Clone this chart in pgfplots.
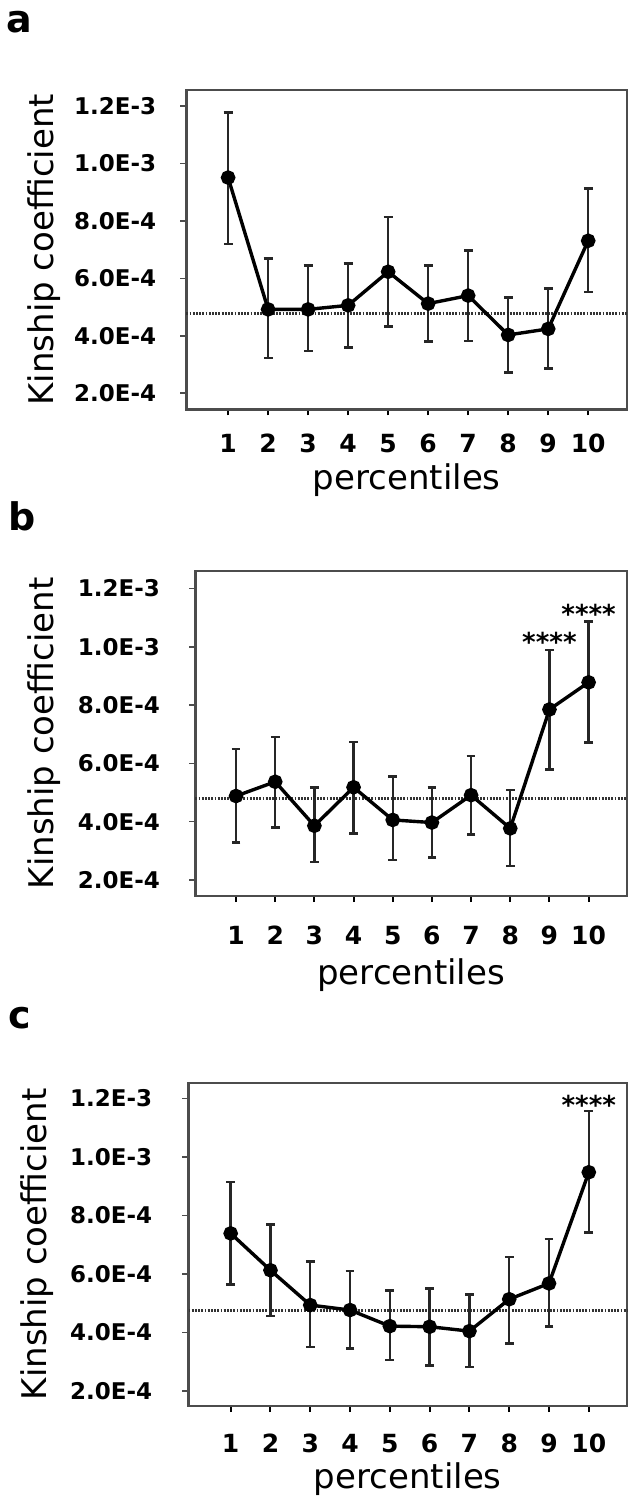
\documentclass[border=0pt]{standalone}
\usepackage{pgfplots}
\pgfplotsset{compat=1.18}
\usepackage{pgfplotstable}
\usepackage{fontspec}
\setmainfont{DejaVu Sans}

\pgfplotstableread{
x m hi lo
1 9.51e-4 11.77e-4 7.20e-4
2 4.92e-4 6.69e-4 3.22e-4
3 4.92e-4 6.45e-4 3.47e-4
4 5.06e-4 6.52e-4 3.59e-4
5 6.23e-4 8.14e-4 4.32e-4
6 5.12e-4 6.45e-4 3.80e-4
7 5.40e-4 6.98e-4 3.82e-4
8 4.03e-4 5.33e-4 2.72e-4
9 4.24e-4 5.64e-4 2.87e-4
10 7.31e-4 9.13e-4 5.53e-4
}\dataA
\pgfplotstableread{
x m hi lo
1 4.88e-4 6.50e-4 3.28e-4
2 5.37e-4 6.91e-4 3.81e-4
3 3.86e-4 5.18e-4 2.61e-4
4 5.18e-4 6.74e-4 3.60e-4
5 4.06e-4 5.54e-4 2.69e-4
6 3.97e-4 5.18e-4 2.78e-4
7 4.91e-4 6.25e-4 3.57e-4
8 3.77e-4 5.09e-4 2.48e-4
9 7.85e-4 9.89e-4 5.79e-4
10 8.78e-4 10.86e-4 6.71e-4
}\dataB
\pgfplotstableread{
x m hi lo
1 7.39e-4 9.14e-4 5.64e-4
2 6.13e-4 7.69e-4 4.56e-4
3 4.94e-4 6.42e-4 3.51e-4
4 4.77e-4 6.10e-4 3.46e-4
5 4.22e-4 5.43e-4 3.06e-4
6 4.20e-4 5.51e-4 2.87e-4
7 4.05e-4 5.31e-4 2.83e-4
8 5.14e-4 6.59e-4 3.63e-4
9 5.68e-4 7.20e-4 4.20e-4
10 9.48e-4 11.58e-4 7.42e-4
}\dataC

\pgfplotsset{
  kin/.style={
    scale only axis,
    anchor=north west,
    xtick={1,...,10},
    xticklabels={1,2,3,4,5,6,7,8,9,10},
    ytick={2e-4,4e-4,6e-4,8e-4,10e-4,12e-4},
    yticklabels={2.0E-4,4.0E-4,6.0E-4,8.0E-4,1.0E-3,1.2E-3},
    scaled y ticks=false,
    xtick pos=bottom, ytick pos=left,
    tick align=outside,
    major tick length=3pt,
    axis line style={black!70, line width=1.2pt},
    xtick style={black, line width=1pt},
    ytick style={black!70, line width=0.8pt},
    x tick label style={font=\bfseries\fontsize{12.5}{14}\selectfont, anchor=center},
    y tick label style={font=\bfseries\fontsize{11.5}{13}\selectfont, anchor=east, inner sep=0pt},
    xlabel={percentiles},
    ylabel={Kinship coefficient},
    label style={font=\fontsize{17}{20}\selectfont},
    xlabel style={at={(axis description cs:0.5,0)}, anchor=center},
    clip=false,
  },
  refl/.style={black!80, line width=1.4pt, dash pattern=on 0.9pt off 0.7pt},
  ser/.style={black, line width=1.7pt, mark=*, mark size=2.8pt, mark options={solid, fill=black},
    error bars/.cd, y dir=both, y explicit,
    error bar style={line width=1.2pt, black!85},
    error mark options={rotate=90, line width=1.3pt, mark size=2.2pt, black!85}},
}

\begin{document}
\begin{tikzpicture}
% panel a
\begin{axis}[kin, at={(93.25pt,-45pt)}, width=220.25pt, height=159.65pt,
  xmin=-0.04, xmax=10.97, ymin=1.44e-4, ymax=12.56e-4,
  x tick label style={yshift=-14pt}, y tick label style={xshift=-12pt},
  xlabel style={yshift=-35.5pt},
  ylabel style={at={(axis description cs:-0.3235,0.5)}, anchor=center}]
\addplot[refl] coordinates {(-0.04,4.79e-4) (10.97,4.79e-4)};
\addplot[ser] table[x=x, y=m, y error plus expr=\thisrow{hi}-\thisrow{m}, y error minus expr=\thisrow{m}-\thisrow{lo}] {\dataA};
\end{axis}
% panel b
\begin{axis}[kin, at={(97.65pt,-285.35pt)}, width=215.85pt, height=162.65pt,
  xmin=-0.04, xmax=10.98, ymin=1.45e-4, ymax=12.61e-4,
  x tick label style={yshift=-16.75pt}, y tick label style={xshift=-14.5pt},
  xlabel style={yshift=-39.5pt},
  ylabel style={at={(axis description cs:-0.3505,0.5)}, anchor=center}]
\addplot[refl] coordinates {(-0.04,4.80e-4) (10.98,4.80e-4)};
\addplot[ser] table[x=x, y=m, y error plus expr=\thisrow{hi}-\thisrow{m}, y error minus expr=\thisrow{m}-\thisrow{lo}] {\dataB};
\node[anchor=base, yshift=-7.7pt, font=\bfseries\fontsize{13}{15}\selectfont, inner sep=0pt] at (axis cs:9,10.37e-4) {****};
\node[anchor=base, yshift=-7.7pt, font=\bfseries\fontsize{13}{15}\selectfont, inner sep=0pt] at (axis cs:10,11.33e-4) {****};
\end{axis}
% panel c
\begin{axis}[kin, at={(94.25pt,-541.35pt)}, width=219.25pt, height=161.65pt,
  xmin=-0.06, xmax=10.96, ymin=1.49e-4, ymax=12.54e-4,
  x tick label style={yshift=-15.75pt}, y tick label style={xshift=-15pt},
  xlabel style={yshift=-36.5pt},
  ylabel style={at={(axis description cs:-0.3455,0.5)}, anchor=center}]
\addplot[refl] coordinates {(-0.06,4.75e-4) (10.96,4.75e-4)};
\addplot[ser] table[x=x, y=m, y error plus expr=\thisrow{hi}-\thisrow{m}, y error minus expr=\thisrow{m}-\thisrow{lo}] {\dataC};
\node[anchor=base, yshift=-7.7pt, font=\bfseries\fontsize{13}{15}\selectfont, inner sep=0pt] at (axis cs:10,11.97e-4) {****};
\end{axis}
% panel letters
\node[anchor=base west, font=\bfseries\fontsize{19}{22}\selectfont, inner sep=0pt] at (3pt,-16.5pt) {a};
\node[anchor=base west, font=\bfseries\fontsize{19}{22}\selectfont, inner sep=0pt] at (4pt,-265pt) {b};
\node[anchor=base west, font=\bfseries\fontsize{19}{22}\selectfont, inner sep=0pt] at (4pt,-514pt) {c};
\pgfresetboundingbox
\useasboundingbox (0,0) rectangle (314.5pt,-748.5pt);
\end{tikzpicture}
\end{document}
